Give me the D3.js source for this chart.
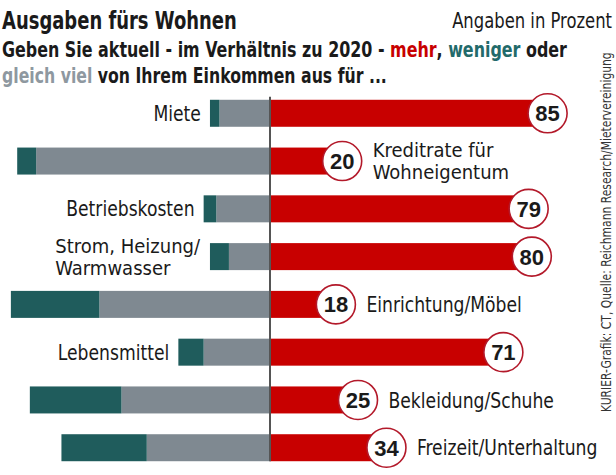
<!DOCTYPE html>
<html><head><meta charset="utf-8">
<script src="https://cdn.jsdelivr.net/npm/d3@7"></script>
<style>
html,body{margin:0;padding:0;background:#fff;}
svg{display:block;}
</style></head>
<body>
<svg id="chart" width="616" height="475"></svg>
<script>
// ---- data ----
const categories = ["Miete", "Kreditrate für Wohneigentum", "Betriebskosten", "Strom, Heizung/Warmwasser",
  "Einrichtung/Möbel", "Lebensmittel", "Bekleidung/Schuhe", "Freizeit/Unterhaltung"];
const labelLines = [["Miete"], ["Kreditrate für", "Wohneigentum"], ["Betriebskosten"], ["Strom, Heizung/", "Warmwasser"],
  ["Einrichtung/Möbel"], ["Lebensmittel"], ["Bekleidung/Schuhe"], ["Freizeit/Unterhaltung"]];
const mehr = [85, 20, 79, 80, 18, 71, 25, 34];
const weniger = [3, 6, 4, 6, 28, 8, 29, 27];
const gleich = [16, 74, 17, 13, 54, 21, 47, 39];

const title = "Ausgaben fürs Wohnen";
const unitNote = "Angaben in Prozent";
const source = "KURIER-Grafik: CT, Quelle: Reichmann Research/Mietervereinigung";

// ---- style ----
const FONT = "'DejaVu Sans Condensed','DejaVu Sans',sans-serif";
const RED = "#c80000", TEAL = "#1f5c5c", GRAY = "#7f8991", INK = "#1a1a1a";

const svg = d3.select("#chart");
const axisX = 270;

const x = d3.scaleLinear().domain([0, 100]).range([axisX, axisX + 316]);
const xl = d3.scaleLinear().domain([0, 100]).range([axisX, axisX - 316]);
const y = d3.scaleBand().domain(categories).range([79, 482]).paddingInner(0.435).paddingOuter(0.435);
const bh = y.bandwidth();

// helper: place text at (px,py) and condense horizontally to target width
function fit(sel, px, py, targetW) {
  const w = sel.node().getBBox().width;
  const s = Math.min(1, targetW / w);
  sel.attr("x", 0).attr("y", 0).attr("transform", `translate(${px},${py}) scale(${s},1)`);
  return sel;
}

// headers
fit(svg.append("text").attr("font-family", FONT).attr("font-weight", "bold")
  .attr("font-size", 25).attr("fill", INK).text(title), 2, 29, 235);
fit(svg.append("text").attr("text-anchor", "end").attr("font-family", FONT)
  .attr("font-size", 21).attr("fill", INK).text(unitNote), 612, 28, 160);

const sub1 = svg.append("text").attr("font-family", FONT).attr("font-weight", "bold")
  .attr("font-size", 21).attr("fill", INK);
sub1.append("tspan").text("Geben Sie aktuell - im Verhältnis zu 2020 - ");
sub1.append("tspan").attr("fill", RED).text("mehr");
sub1.append("tspan").text(", ");
sub1.append("tspan").attr("fill", "#226a6a").text("weniger");
sub1.append("tspan").text(" oder");
fit(sub1, 2, 57, 563);
const sub2 = svg.append("text").attr("font-family", FONT).attr("font-weight", "bold")
  .attr("font-size", 21).attr("fill", INK);
sub2.append("tspan").attr("fill", "#8e98a0").text("gleich viel");
sub2.append("tspan").text(" von Ihrem Einkommen aus für ...");
fit(sub2, 2, 83, 385);

// source (vertical)
const src = svg.append("text").attr("font-family", FONT).attr("font-size", 14).attr("fill", "#333").text(source);
const sw = src.node().getBBox().width;
src.attr("transform", `translate(611,412) rotate(-90) scale(${360 / sw},1)`);

const rows = categories.map((c, i) => ({c, i, mehr: mehr[i], weniger: weniger[i], gleich: gleich[i], lines: labelLines[i]}));

const g = svg.append("g");
// left: gleich (gray) then weniger (teal)
g.selectAll("rect.gleich").data(rows).join("rect").attr("class", "gleich")
  .attr("x", d => xl(d.gleich)).attr("width", d => axisX - xl(d.gleich))
  .attr("y", d => y(d.c)).attr("height", bh).attr("fill", GRAY);
g.selectAll("rect.weniger").data(rows).join("rect").attr("class", "weniger")
  .attr("x", d => xl(d.gleich + d.weniger)).attr("width", d => xl(d.gleich) - xl(d.gleich + d.weniger))
  .attr("y", d => y(d.c)).attr("height", bh).attr("fill", TEAL);
// right: mehr
g.selectAll("rect.mehr").data(rows).join("rect").attr("class", "mehr")
  .attr("x", axisX).attr("width", d => x(d.mehr) - axisX + 9)
  .attr("y", d => y(d.c)).attr("height", bh).attr("fill", RED);

// axis line
svg.append("line").attr("x1", axisX).attr("x2", axisX).attr("y1", y(categories[0]) - 3)
  .attr("y2", y(categories[categories.length - 1]) + bh).attr("stroke", "#555").attr("stroke-width", 2);

// circles
const R = 19.5;
const cg = svg.selectAll("g.circ").data(rows).join("g").attr("class", "circ")
  .attr("transform", d => `translate(${x(d.mehr) + 9},${y(d.c) + bh / 2})`);
cg.append("circle").attr("r", R).attr("fill", "#fff").attr("stroke", "#b3192a").attr("stroke-width", 1.6);
cg.append("text").attr("text-anchor", "middle").attr("dy", "0.36em").attr("font-family", "'Liberation Sans',Arial,sans-serif")
  .attr("font-weight", "bold").attr("font-size", 22).attr("fill", INK).text(d => d.mehr);

// labels
rows.forEach(d => {
  const leftSide = (d.weniger + d.gleich) < 50;
  const cy = y(d.c) + bh / 2;
  const n = d.lines.length;
  const fs = n > 1 ? 20 : 21;
  const sx = n > 1 ? 1.0 : 0.91;
  const lh = 22;
  const px = leftSide ? xl(d.weniger + d.gleich) - 9 : x(d.mehr) + 9 + R + 11;
  d.lines.forEach((ln, k) => {
    const t = svg.append("text").attr("font-family", FONT).attr("font-size", fs).attr("fill", INK)
      .attr("x", 0).attr("y", 0).attr("dy", "0.36em").text(ln);
    t.attr("data-w", t.node().getBBox().width * sx);
    t.attr("data-dy", (k - (n - 1) / 2) * lh);
    d["t" + k] = t;
  });
  const blockW = d3.max(d.lines, (ln, k) => +d["t" + k].attr("data-w"));
  const left = leftSide ? px - blockW : px;
  d.lines.forEach((ln, k) => {
    const t = d["t" + k];
    t.attr("transform", `translate(${left},${cy + (+t.attr("data-dy"))}) scale(${sx},1)`);
  });
});
</script>
</body></html>
